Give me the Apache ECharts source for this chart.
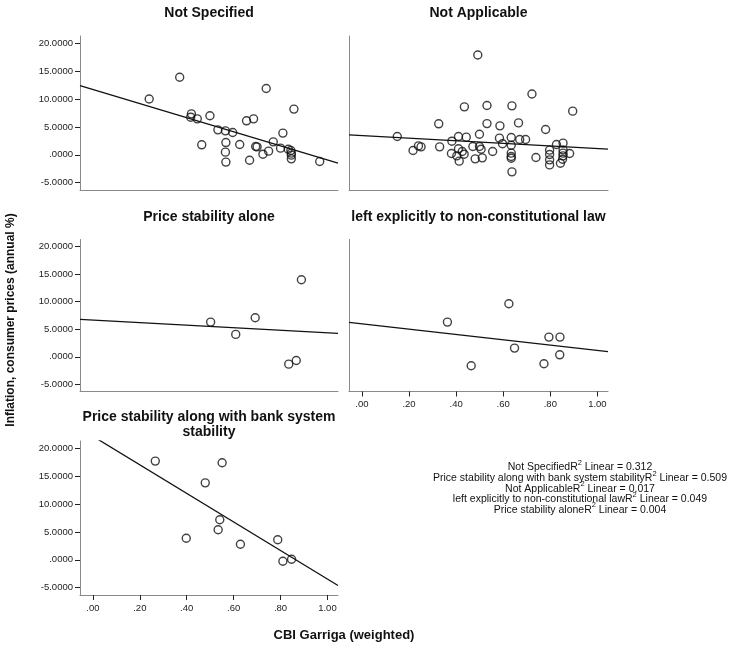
<!DOCTYPE html>
<html><head><meta charset="utf-8">
<script src="https://cdn.jsdelivr.net/npm/echarts@6/dist/echarts.min.js"></script>
<style>html,body{margin:0;padding:0;background:#fff}#c{width:729px;height:646px}</style>
</head><body><div id="c"></div>
<script>
// ---- data ----
const panelTitles = ["Not Specified", "Not Applicable", "Price stability alone", "left explicitly to non-constitutional law", "Price stability along with bank system\nstability"];
const yTicks = [-5, 0, 5, 10, 15, 20];
const xTicks = [0, 0.2, 0.4, 0.6, 0.8, 1.0];

const notSpecifiedX = [0.24,0.37,0.42,0.417,0.445,0.464,0.499,0.533,0.565,0.596,0.567,0.565,0.567,0.626,0.655,0.685,0.668,0.694,0.70,0.725,0.739,0.749,0.769,0.80,0.81,0.833,0.844,0.846,0.846,0.846,0.857,0.967];
const notSpecifiedY = [10.0,13.9,7.35,6.75,6.45,1.8,7.0,4.48,4.3,4.0,2.2,0.48,-1.3,1.85,6.1,6.45,-0.96,1.5,1.43,0.12,11.9,0.66,2.33,1.2,3.9,1.0,0.78,0.3,-0.05,-0.72,8.2,-1.2];

const notApplicableX = [0.150,0.217,0.24,0.251,0.326,0.33,0.382,0.38,0.41,0.41,0.403,0.413,0.435,0.443,0.434,0.426,0.471,0.481,0.492,0.499,0.499,0.506,0.511,0.531,0.531,0.555,0.586,0.584,0.597,0.634,0.637,0.634,0.634,0.634,0.634,0.637,0.665,0.67,0.695,0.722,0.739,0.78,0.797,0.797,0.797,0.797,0.826,0.843,0.854,0.854,0.854,0.854,0.852,0.882,0.895];
const notApplicableY = [3.28,0.77,1.6,1.43,5.56,1.43,2.45,0.24,3.28,1.08,-0.18,-1.13,8.6,3.17,0.12,0.6,1.5,-0.72,17.9,3.7,1.5,1.0,-0.54,8.85,5.6,0.6,5.2,2.99,2.0,3.1,8.78,1.73,0.3,-0.3,-0.6,-3.05,5.73,2.75,2.75,10.9,-0.48,4.54,0.84,0.06,-0.9,-1.8,1.85,-1.5,2.1,0.9,0.3,-0.18,-0.78,0.24,7.83];

const priceAloneX = [0.502,0.609,0.692,0.889,0.835,0.867];
const priceAloneY = [6.3,4.07,7.1,14.0,-1.33,-0.67];

const nonConstX = [0.363,0.624,0.464,0.648,0.794,0.841,0.84,0.773];
const nonConstY = [6.3,9.64,-1.63,1.58,3.58,3.58,0.36,-1.27];

const bankX = [0.266,0.551,0.479,0.541,0.534,0.398,0.629,0.788,0.81,0.847];
const bankY = [17.7,17.4,13.8,7.19,5.4,3.87,2.8,3.6,-0.25,0.1];

// fitted lines [intercept, slope]
const fitNotSpecified = [11.7, -12.6];
const fitNotApplicable = [3.46, -2.32];
const fitPriceAlone = [6.67, -2.32];
const fitNonConst = [6.0, -4.84];
const fitBank = [22.15, -25.6];

const r2Labels = ["Not Specified", "Price stability along with bank system stability", "Not Applicable", "left explicitly to non-constitutional law", "Price stability alone"];
const r2Values = ["0.312", "0.509", "0.017", "0.049", "0.004"];

// ---- build ----
const FONT = "'Liberation Sans', Arial, sans-serif";
const X_MIN = -0.055, X_MAX = 1.045, Y_MIN = -6.3, Y_MAX = 21.3;

const grids = [
  {left: 80, top: 36, width: 258, height: 154},
  {left: 349, top: 36, width: 259, height: 154},
  {left: 80, top: 239.5, width: 258, height: 152},
  {left: 349, top: 239.5, width: 259, height: 152},
  {left: 80, top: 441, width: 258, height: 154}
];
const showX = [false, false, false, true, true];
const showY = [true, false, true, false, true];
const xs = [notSpecifiedX, notApplicableX, priceAloneX, nonConstX, bankX];
const ys = [notSpecifiedY, notApplicableY, priceAloneY, nonConstY, bankY];
const fits = [fitNotSpecified, fitNotApplicable, fitPriceAlone, fitNonConst, fitBank];

function yFmt(v) {
  const s = Math.abs(v).toFixed(4).replace(/^0/, '');
  return (v < 0 ? '-' : '') + s;
}
function xFmt(v) { return v.toFixed(2).replace(/^0/, ''); }

const xAxis = [], yAxis = [], series = [], graphic = [];
grids.forEach((g, i) => {
  xAxis.push({
    type: 'value', gridIndex: i, min: X_MIN, max: X_MAX,
    splitLine: {show: false},
    axisLine: {show: true, onZero: false, lineStyle: {color: '#8a8a8a', width: 1}},
    axisTick: {show: showX[i], customValues: xTicks, length: 5, lineStyle: {color: '#222', width: 1}},
    axisLabel: {show: showX[i], customValues: xTicks, formatter: xFmt, fontFamily: FONT, fontSize: 9.5, color: '#222', margin: 8}
  });
  yAxis.push({
    type: 'value', gridIndex: i, min: Y_MIN, max: Y_MAX,
    splitLine: {show: false},
    axisLine: {show: true, onZero: false, lineStyle: {color: '#8a8a8a', width: 1}},
    axisTick: {show: showY[i], customValues: yTicks, length: 5, lineStyle: {color: '#222', width: 1}},
    axisLabel: {show: showY[i], customValues: yTicks, formatter: yFmt, fontFamily: FONT, fontSize: 9.5, color: '#222', margin: 7}
  });
  series.push({
    type: 'scatter', xAxisIndex: i, yAxisIndex: i,
    data: xs[i].map((x, k) => [x, ys[i][k]]),
    symbol: 'circle', symbolSize: 8,
    itemStyle: {color: 'rgba(0,0,0,0)', borderColor: '#111', borderWidth: 1.4},
    silent: true, z: 3
  });
  const f = fits[i];
  series.push({
    type: 'line', xAxisIndex: i, yAxisIndex: i, clip: true,
    data: [[X_MIN, f[0] + f[1] * X_MIN], [X_MAX, f[0] + f[1] * X_MAX]],
    symbol: 'none', lineStyle: {color: '#111', width: 1.3}, silent: true, z: 2
  });
  const isTwo = panelTitles[i].indexOf('\n') >= 0;
  graphic.push({
    type: 'text', x: g.left + g.width / 2, y: isTwo ? 410 : g.top - 30,
    style: {text: panelTitles[i], font: 'bold 14px ' + FONT, fill: '#111', textAlign: 'center', lineHeight: 15}
  });
});

// axis titles
graphic.push({
  type: 'text', x: 11, y: 320, rotation: Math.PI / 2,
  style: {text: 'Inflation, consumer prices (annual %)', font: 'bold 12px ' + FONT, fill: '#111', textAlign: 'center', textVerticalAlign: 'middle'}
});
graphic.push({
  type: 'text', x: 344, y: 635,
  style: {text: 'CBI Garriga (weighted)', font: 'bold 13px ' + FONT, fill: '#111', textAlign: 'center', textVerticalAlign: 'middle'}
});
// R2 legend
r2Labels.forEach((lab, k) => {
  graphic.push({
    type: 'text', x: 580, y: 466 + k * 10.6,
    style: {
      text: '{n|' + lab + 'R}{s|2}{n| Linear = ' + r2Values[k] + '}',
      textAlign: 'center', textVerticalAlign: 'middle',
      rich: {
        n: {fontFamily: FONT, fontSize: 10.5, fill: '#111', color: '#111', lineHeight: 14, verticalAlign: 'bottom'},
        s: {fontFamily: FONT, fontSize: 7.5, fill: '#111', color: '#111', lineHeight: 14, verticalAlign: 'top'}
      }
    }
  });
});

const chart = echarts.init(document.getElementById('c'), null, {renderer: 'canvas'});
chart.setOption({
  animation: false,
  backgroundColor: '#fff',
  grid: grids,
  xAxis: xAxis, yAxis: yAxis, series: series,
  graphic: graphic
});
</script></body></html>
